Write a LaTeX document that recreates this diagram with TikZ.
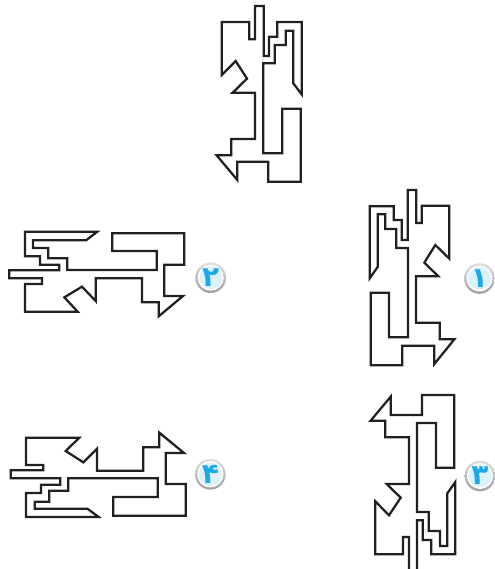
\documentclass[tikz,border=0pt]{standalone}
\usepackage{fontspec}
\TeXXeTstate=1
\newfontfamily\arabicfont[Script=Arabic]{DejaVu Sans}
\definecolor{inkline}{HTML}{231F20}
\definecolor{badgefill}{HTML}{DDF1FB}
\definecolor{badgedigit}{HTML}{1BA9E8}
\tikzset{
  maze/.style={draw=inkline,line width=1.7pt,line join=miter,miter limit=6},
  zoomed/.style={scale=1/3},
  badgering/.style={circle,minimum size=23pt,inner sep=0pt,shade,shading=axis,shading angle=35,top color=gray!25,bottom color=gray!75},
  badgedisc/.style={circle,minimum size=18pt,inner sep=0pt,draw=white,line width=1pt,fill=badgefill,text=badgedigit,font=\arabicfont\bfseries\fontsize{21}{21}\selectfont},
}
\begin{document}
\begin{tikzpicture}[x=0.75pt,y=-0.75pt]
\useasboundingbox (0,0) rectangle (495,569);
% top figure
\begin{scope}[shift={(205,0)},zoomed]
\draw[maze] (50,66)--(133,66)--(133,118)--(150,118)--(150,18)--(176,18)--(176,168)--(192,168)--(192,110)--(217,110)--(217,66)--(290,66)--(290,283)--(265,250)--(265,92)--(242,92)--(242,135)--(209,135)--(209,190)--(175,190)--(175,460)--(232,460)--(232,326)--(287,326)--(287,545)--(190,545)--(190,485)--(97,485)--(97,540)--(35,466)--(79,466)--(79,417)--(150,417)--(150,278)--(83,278)--(126,236)--(92,183)--(50,225)--cycle;
\end{scope}
% figure 1
\begin{scope}[shift={(355,185)},zoomed]
\draw[maze] (44,64)--(116,64)--(116,105)--(140,105)--(140,165)--(158,165)--(158,15)--(184,15)--(184,114)--(200,114)--(200,62)--(283,62)--(283,221)--(241,180)--(208,233)--(250,274)--(183,274)--(183,413)--(254,413)--(254,463)--(298,463)--(238,537)--(238,482)--(142,482)--(142,541)--(47,541)--(47,323)--(102,323)--(102,457)--(159,457)--(159,189)--(124,189)--(124,132)--(91,132)--(91,88)--(68,88)--(68,246)--(44,280)--cycle;
\end{scope}
% figure 2
\begin{scope}[shift={(0,225)},zoomed]
\draw[maze] (75,20)--(292,20)--(258,46)--(99,46)--(99,69)--(145,69)--(145,100)--(202,100)--(202,135)--(470,135)--(470,78)--(337,78)--(337,25)--(553,25)--(553,119)--(493,119)--(493,213)--(549,213)--(476,274)--(476,232)--(426,232)--(426,160)--(287,160)--(287,228)--(246,185)--(193,217)--(233,260)--(75,260)--(75,177)--(126,177)--(126,160)--(28,160)--(28,136)--(178,136)--(178,119)--(120,119)--(120,94)--(75,94)--cycle;
\end{scope}
% figure 4
\begin{scope}[shift={(0,425)},zoomed]
\draw[maze] (78,38)--(238,38)--(197,78)--(250,112)--(291,71)--(291,137)--(430,137)--(430,67)--(478,67)--(478,23)--(552,84)--(497,84)--(497,177)--(557,177)--(557,272)--(340,272)--(340,216)--(473,216)--(473,160)--(205,160)--(205,197)--(148,197)--(148,230)--(104,230)--(104,251)--(262,251)--(296,276)--(78,276)--(78,204)--(123,204)--(123,179)--(181,179)--(181,160)--(32,160)--(32,136)--(130,136)--(130,120)--(78,120)--cycle;
\end{scope}
% figure 3 (runs off the bottom edge)
\begin{scope}[shift={(360,390)},zoomed]
\draw[maze] (171,537)--(171,391)--(188,391)--(188,450)--(214,450)--(214,493)--(286,493)--(286,276)--(262,310)--(262,468)--(240,468)--(240,423)--(206,423)--(206,366)--(171,366)--(171,99)--(228,99)--(228,233)--(283,233)--(283,15)--(186,15)--(186,75)--(92,75)--(92,20)--(32,92)--(76,92)--(76,142)--(147,142)--(147,282)--(80,282)--(122,323)--(87,376)--(46,334)--(46,493)--(129,493)--(129,441)--(147,441)--(147,537);
\end{scope}
% badges
\node[badgering] (ring1) at (479.5,278.5) {};
\node[badgedisc] (badge1) at (ring1) {\beginR ۱\endR};
\node[badgering] (ring2) at (210.7,277.7) {};
\node[badgedisc] (badge2) at (ring2) {\beginR ۲\endR};
\node[badgering] (ring3) at (480,476) {};
\node[badgedisc] (badge3) at (ring3) {\beginR ۳\endR};
\node[badgering] (ring4) at (210.3,474.3) {};
\node[badgedisc] (badge4) at (ring4) {\beginR ۴\endR};
\end{tikzpicture}
\end{document}
